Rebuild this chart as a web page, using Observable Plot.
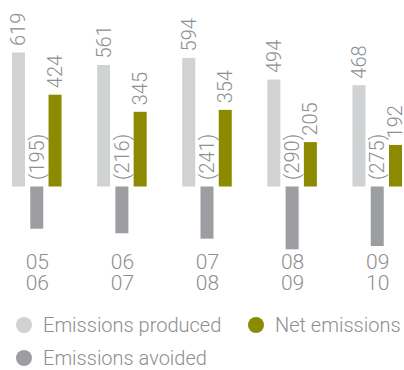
<!DOCTYPE html>
<html>
<head>
<meta charset="utf-8">
<script src="https://cdn.jsdelivr.net/npm/d3@7"></script>
<script src="https://cdn.jsdelivr.net/npm/@observablehq/plot@0.6"></script>
<style>
  html, body { margin: 0; padding: 0; background: #fff; }
  body { width: 404px; height: 370px; overflow: hidden; font-family: Roboto, "Open Sans", sans-serif; font-weight: 300; }
  #legend { position: relative; height: 70px; color: #8e8e90; font-size: 20px; line-height: 22px; }
  .item { position: absolute; display: flex; align-items: center; white-space: nowrap; }
  .dot { width: 16px; height: 16px; border-radius: 50%; margin-right: 11px; }
</style>
</head>
<body>
<div id="chart"></div>
<div id="legend"></div>
<script>
const periods = ["05\n06", "06\n07", "07\n08", "08\n09", "09\n10"];
const seriesNames = ["Emissions produced", "Emissions avoided", "Net emissions"];
const produced = [619, 561, 594, 494, 468];
const avoided = [195, 216, 241, 290, 275];
const net = [424, 345, 354, 205, 192];
const colors = ["#d1d2d4", "#9d9ea2", "#8c8a00"];
const textColor = "#8e8e90";

const rows = [];
periods.forEach((p, i) => {
  rows.push({period: p, series: seriesNames[0], value: produced[i], label: String(produced[i]), base: produced[i]});
  rows.push({period: p, series: seriesNames[1], value: -avoided[i], label: "(" + avoided[i] + ")", base: 0});
  rows.push({period: p, series: seriesNames[2], value: net[i], label: String(net[i]), base: net[i]});
});

const k = 0.2165; // px per unit
const y0 = 186.5;

const chart = Plot.plot({
  width: 404,
  height: 300,
  marginLeft: 12,
  marginRight: 2,
  marginTop: 0,
  marginBottom: 50,
  style: {fontFamily: "Roboto, 'Open Sans', sans-serif", fontWeight: 300, color: textColor, background: "#fff"},
  fx: {domain: periods, paddingInner: 0.418, paddingOuter: 0, round: false, label: null},
  x: {domain: seriesNames, paddingInner: 0.288, paddingOuter: 0, round: false, axis: null},
  y: {domain: [-300, 700], range: [y0 + 300 * k, y0 - 700 * k], axis: null},
  color: {domain: seriesNames, range: colors},
  marks: [
    Plot.barY(rows, {fx: "period", x: "series", y1: 0, y2: "value", fill: "series"}),
    Plot.text(rows, {
      fx: "period", x: "series", y: "base", text: "label",
      rotate: -90, textAnchor: "start", lineAnchor: "middle",
      dy: -7,
      fontSize: 20, fill: textColor
    }),
    Plot.axisFx({anchor: "bottom", tickSize: 0, tickPadding: 4, fontSize: 21, lineHeight: 1, lineAnchor: "top", label: null, fill: textColor})
  ]
});
document.getElementById("chart").appendChild(chart);

const legend = document.getElementById("legend");
const pos = [[16, 25], [16, 58], [248, 25]];
[0, 1, 2].forEach(i => {
  const it = document.createElement("div");
  it.className = "item";
  it.style.left = pos[i][0] + "px";
  it.style.top = (pos[i][1] - 11) + "px";
  it.style.height = "22px";
  const d = document.createElement("span");
  d.className = "dot";
  d.style.background = colors[i];
  const t = document.createElement("span");
  t.textContent = seriesNames[i];
  it.appendChild(d); it.appendChild(t);
  legend.appendChild(it);
});
</script>
</body>
</html>
